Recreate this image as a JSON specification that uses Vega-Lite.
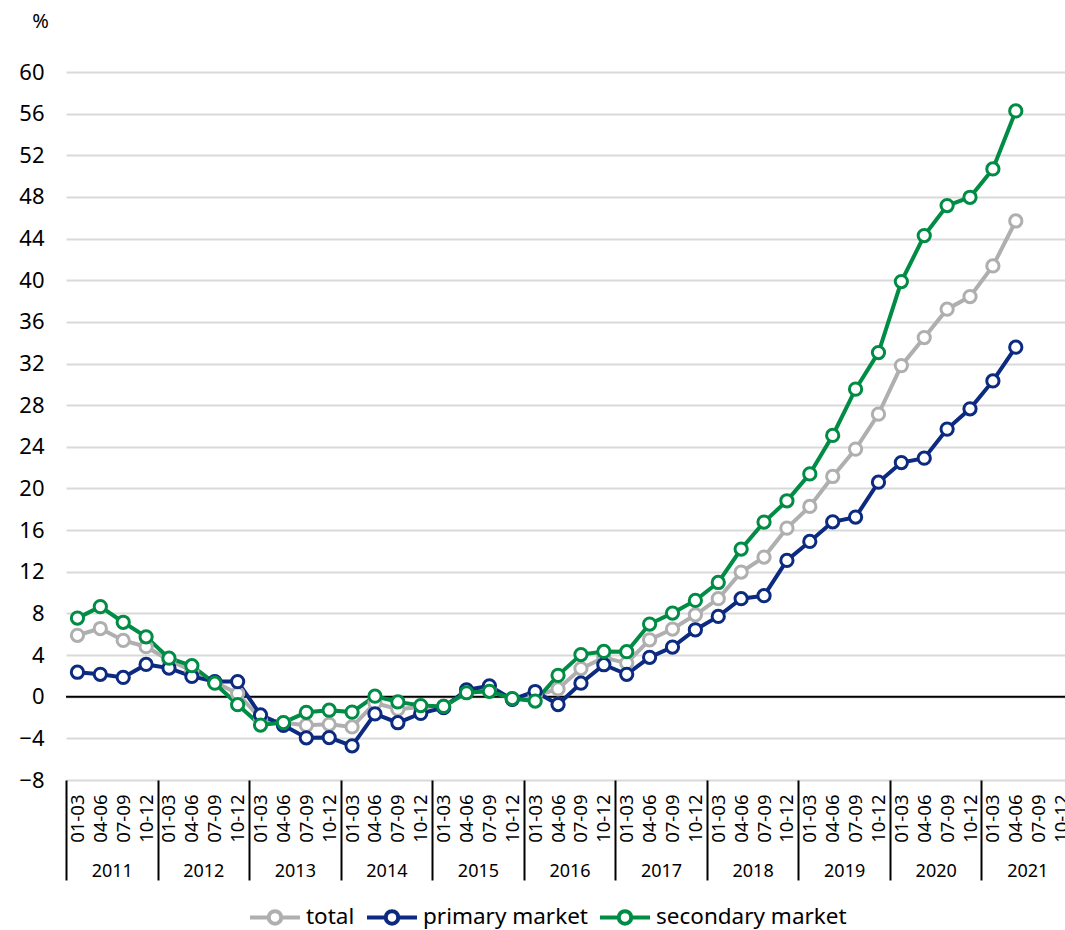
{
  "$schema": "https://vega.github.io/schema/vega-lite/v6.json",
  "autosize": "none",
  "padding": {"left": 66, "top": 72, "right": 0, "bottom": 150},
  "width": 999,
  "height": 708,
  "background": "white",
  "config": {
    "font": "Noto Sans",
    "view": {"stroke": null},
    "axis": {"labelColor": "black", "titleColor": "black", "domain": false, "ticks": false, "grid": false}
  },
  "datasets": {
    "quarters": [
      {"q": "2011 01-03", "total": 5.9, "primary market": 2.35, "secondary market": 7.55},
      {"q": "2011 04-06", "total": 6.55, "primary market": 2.15, "secondary market": 8.65},
      {"q": "2011 07-09", "total": 5.4, "primary market": 1.85, "secondary market": 7.15},
      {"q": "2011 10-12", "total": 4.8, "primary market": 3.1, "secondary market": 5.75},
      {"q": "2012 01-03", "total": 3.5, "primary market": 2.75, "secondary market": 3.7},
      {"q": "2012 04-06", "total": 2.5, "primary market": 1.95, "secondary market": 2.98},
      {"q": "2012 07-09", "total": 1.4, "primary market": 1.45, "secondary market": 1.3},
      {"q": "2012 10-12", "total": 0.3, "primary market": 1.45, "secondary market": -0.77},
      {"q": "2013 01-03", "total": -2.1, "primary market": -1.75, "secondary market": -2.72},
      {"q": "2013 04-06", "total": -2.5, "primary market": -2.75, "secondary market": -2.48},
      {"q": "2013 07-09", "total": -2.75, "primary market": -3.95, "secondary market": -1.5},
      {"q": "2013 10-12", "total": -2.65, "primary market": -3.92, "secondary market": -1.3},
      {"q": "2014 01-03", "total": -2.9, "primary market": -4.72, "secondary market": -1.48},
      {"q": "2014 04-06", "total": -0.6, "primary market": -1.65, "secondary market": 0.05},
      {"q": "2014 07-09", "total": -1.2, "primary market": -2.5, "secondary market": -0.5},
      {"q": "2014 10-12", "total": -1.0, "primary market": -1.6, "secondary market": -0.85},
      {"q": "2015 01-03", "total": -0.9, "primary market": -1.05, "secondary market": -0.93},
      {"q": "2015 04-06", "total": 0.45, "primary market": 0.65, "secondary market": 0.38},
      {"q": "2015 07-09", "total": 0.75, "primary market": 1.05, "secondary market": 0.52},
      {"q": "2015 10-12", "total": -0.2, "primary market": -0.25, "secondary market": -0.18},
      {"q": "2016 01-03", "total": 0.1, "primary market": 0.5, "secondary market": -0.42},
      {"q": "2016 04-06", "total": 0.75, "primary market": -0.75, "secondary market": 2.05},
      {"q": "2016 07-09", "total": 2.7, "primary market": 1.3, "secondary market": 4.05},
      {"q": "2016 10-12", "total": 3.75, "primary market": 3.07, "secondary market": 4.35},
      {"q": "2017 01-03", "total": 3.23, "primary market": 2.15, "secondary market": 4.32},
      {"q": "2017 04-06", "total": 5.47, "primary market": 3.78, "secondary market": 6.98},
      {"q": "2017 07-09", "total": 6.5, "primary market": 4.77, "secondary market": 8.03},
      {"q": "2017 10-12", "total": 7.87, "primary market": 6.43, "secondary market": 9.25},
      {"q": "2018 01-03", "total": 9.41, "primary market": 7.71, "secondary market": 10.97},
      {"q": "2018 04-06", "total": 11.97, "primary market": 9.41, "secondary market": 14.18},
      {"q": "2018 07-09", "total": 13.41, "primary market": 9.7, "secondary market": 16.77},
      {"q": "2018 10-12", "total": 16.19, "primary market": 13.09, "secondary market": 18.82},
      {"q": "2019 01-03", "total": 18.27, "primary market": 14.91, "secondary market": 21.4},
      {"q": "2019 04-06", "total": 21.15, "primary market": 16.8, "secondary market": 25.09},
      {"q": "2019 07-09", "total": 23.78, "primary market": 17.25, "secondary market": 29.54},
      {"q": "2019 10-12", "total": 27.14, "primary market": 20.6, "secondary market": 33.05},
      {"q": "2020 01-03", "total": 31.8, "primary market": 22.49, "secondary market": 39.87},
      {"q": "2020 04-06", "total": 34.49, "primary market": 22.91, "secondary market": 44.29},
      {"q": "2020 07-09", "total": 37.22, "primary market": 25.7, "secondary market": 47.17},
      {"q": "2020 10-12", "total": 38.43, "primary market": 27.65, "secondary market": 47.97},
      {"q": "2021 01-03", "total": 41.37, "primary market": 30.33, "secondary market": 50.69},
      {"q": "2021 04-06", "total": 45.69, "primary market": 33.57, "secondary market": 56.26}
    ],
    "years": [
      {"year": "2011"}, {"year": "2012"}, {"year": "2013"}, {"year": "2014"}, {"year": "2015"}, {"year": "2016"},
      {"year": "2017"}, {"year": "2018"}, {"year": "2019"}, {"year": "2020"}, {"year": "2021"}
    ],
    "zero": [{"v": 0}]
  },
  "layer": [
    {
      "layer": [
        {
          "data": {"name": "zero"},
          "mark": {"type": "rule", "color": "black", "strokeWidth": 2},
          "encoding": {
            "y": {"field": "v", "type": "quantitative"}
          }
        },
        {
          "data": {"name": "quarters"},
          "transform": [{"fold": ["total", "primary market", "secondary market"], "as": ["series", "value"]}],
          "layer": [
            {
              "mark": {"type": "line", "strokeWidth": 4},
              "encoding": {
                "x": {
                  "field": "q", "type": "ordinal",
                  "scale": {
                    "type": "point", "padding": 0.5, "range": [0, 1007],
                    "domain": ["2011 01-03","2011 04-06","2011 07-09","2011 10-12","2012 01-03","2012 04-06","2012 07-09","2012 10-12","2013 01-03","2013 04-06","2013 07-09","2013 10-12","2014 01-03","2014 04-06","2014 07-09","2014 10-12","2015 01-03","2015 04-06","2015 07-09","2015 10-12","2016 01-03","2016 04-06","2016 07-09","2016 10-12","2017 01-03","2017 04-06","2017 07-09","2017 10-12","2018 01-03","2018 04-06","2018 07-09","2018 10-12","2019 01-03","2019 04-06","2019 07-09","2019 10-12","2020 01-03","2020 04-06","2020 07-09","2020 10-12","2021 01-03","2021 04-06","2021 07-09","2021 10-12"]
                  },
                  "axis": {
                    "orient": "bottom", "title": null, "labelAngle": 270, "labelAlign": "right", "labelBaseline": "middle",
                    "labelPadding": 14, "labelFontSize": 18.5, "labelExpr": "slice(datum.value, 5)", "labelOverlap": false
                  }
                },
                "y": {
                  "field": "value", "type": "quantitative",
                  "scale": {"domain": [-8, 60], "nice": false, "zero": false},
                  "axis": {
                    "values": [-8,-4,0,4,8,12,16,20,24,28,32,36,40,44,48,52,56,60],
                    "grid": true, "gridColor": "#d9d9d9", "gridWidth": 2,
                    "labelFontSize": 22, "labelPadding": 22,
                    "title": "%", "titleAngle": 0, "titleFontSize": 20, "titleFontWeight": "normal",
                    "titleX": -26, "titleY": -51, "titleAlign": "center", "titleBaseline": "middle"
                  }
                },
                "color": {
                  "field": "series", "type": "nominal",
                  "scale": {"domain": ["total", "primary market", "secondary market"], "range": ["#afafaf", "#0b2a80", "#008c44"]},
                  "legend": {
                    "title": null, "orient": "none", "legendX": 182, "legendY": 818, "direction": "horizontal",
                    "labelFontSize": 22.5, "labelColor": "black", "labelOffset": 4, "columnPadding": 4, "labelLimit": 0,
                    "symbolType": "M-1,0L-0.25,0M0.25,0L1,0M-0.25,0A0.25,0.25,0,1,0,0.25,0A0.25,0.25,0,1,0,-0.25,0Z",
                    "symbolSize": 2500, "symbolStrokeWidth": 4, "symbolFillColor": "white"
                  }
                }
              }
            },
            {
              "mark": {"type": "point", "filled": false, "fill": "white", "size": 150, "strokeWidth": 3, "opacity": 1},
              "encoding": {
                "x": {"field": "q", "type": "ordinal"},
                "y": {"field": "value", "type": "quantitative"},
                "color": {"field": "series", "type": "nominal"}
              }
            }
          ]
        }
      ]
    },
    {
      "data": {"name": "years"},
      "mark": {"type": "point", "opacity": 0},
      "encoding": {
        "x": {
          "field": "year", "type": "ordinal",
          "scale": {"type": "band", "paddingInner": 0, "paddingOuter": 0, "range": [0, 1007]},
          "axis": {
            "orient": "bottom", "title": null, "ticks": true, "tickBand": "extent", "tickSize": 100,
            "tickColor": "black", "tickWidth": 2, "labelPadding": -9, "labelFontSize": 18, "labelAngle": 0,
            "labelBaseline": "middle", "domain": false, "grid": false
          }
        }
      }
    }
  ],
  "resolve": {"scale": {"x": "independent"}}
}
